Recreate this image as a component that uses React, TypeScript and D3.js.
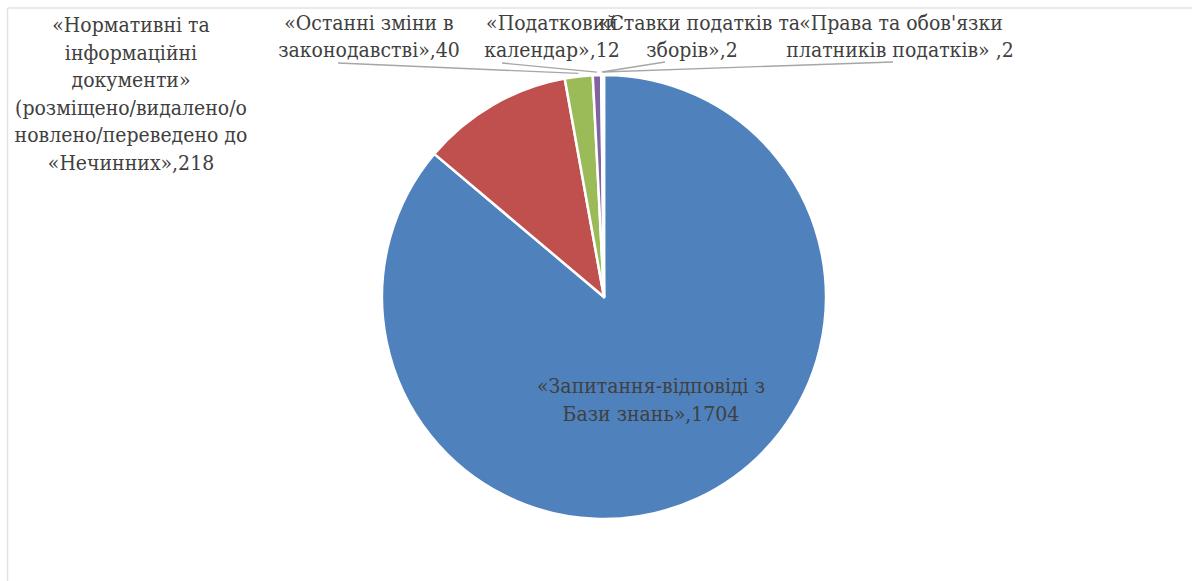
import React from "react";
import * as d3 from "d3";

const categories = [
  "«Запитання-відповіді з Бази знань»",
  "«Нормативні та інформаційні документи» (розміщено/видалено/оновлено/переведено до «Нечинних»",
  "«Останні зміни в законодавстві»",
  "«Податковий календар»",
  "«Ставки податків та зборів»",
  "«Права та обов'язки платників податків»",
];
const values = [1704, 218, 40, 12, 2, 2];
const labelLines = [
  ["«Запитання-відповіді з", "Бази знань»,1704"],
  ["«Нормативні та", "інформаційні", "документи»", "(розміщено/видалено/о", "новлено/переведено до", "«Нечинних»,218"],
  ["«Останні зміни в", "законодавстві»,40"],
  ["«Податковий", "календар»,12"],
  ["«Ставки податків та", "зборів»,2"],
  ["«Права та обов'язки", "платників податків» ,2"],
];
const colors = ["#4F81BD", "#C0504D", "#9BBB59", "#8064A2", "#4BACC6", "#F79646"];

// layout (positions only)
const W = 1192, H = 581;
const CX = 604, CY = 297, R = 222;
const SX = 0.9;
const labelLayout = [
  { xs: [651, 651], y0: 393, dy: 28.5, leader: null },
  { xs: [131, 131, 131, 131, 131, 131], y0: 32, dy: 27.6, leader: null },
  { xs: [369, 369], y0: 30, dy: 27.5, leader: [338, 63] },
  { xs: [552, 552], y0: 30, dy: 27.5, leader: [502, 63] },
  { xs: [699, 692], y0: 30, dy: 27.5, leader: [665, 62] },
  { xs: [901, 900], y0: 30, dy: 27.5, leader: [893, 62] },
];

export default function App() {
  const pie = d3.pie<number>().sort(null).startAngle(0).endAngle(2 * Math.PI);
  const arcs = pie(values);
  const arcGen = d3.arc<d3.PieArcDatum<number>>().innerRadius(0).outerRadius(R);
  return (
    <svg
      width={W}
      height={H}
      style={{ position: "absolute", left: 0, top: 0, background: "#fff" }}
    >
      <rect x={0} y={0} width={W} height={H} fill="#fff" />
      <line x1={7.5} y1={8} x2={W} y2={8} stroke="#e3e3e3" strokeWidth={1.5} />
      <line x1={7.5} y1={8} x2={7.5} y2={H} stroke="#e3e3e3" strokeWidth={1.5} />
      <g transform={`translate(${CX},${CY})`}>
        {arcs.map((a, i) => (
          <path key={i} d={arcGen(a) || ""} fill={colors[i]} stroke="#fff" strokeWidth={2.5} strokeLinejoin="round" />
        ))}
      </g>
      {arcs.map((a, i) => {
        const lay = labelLayout[i];
        if (!lay.leader) return null;
        const mid = (a.startAngle + a.endAngle) / 2;
        const ex = CX + (R + 3) * Math.sin(mid);
        const ey = CY - (R + 3) * Math.cos(mid);
        return (
          <line key={"l" + i} x1={lay.leader[0]} y1={lay.leader[1]} x2={ex} y2={ey} stroke="#a6a6a6" strokeWidth={1.3} />
        );
      })}
      {labelLines.map((lines, i) => {
        const lay = labelLayout[i];
        return (
          <text
            key={"t" + i}
            fontSize={21}
            fill="#404040"
            textAnchor="middle"
            transform={`scale(${SX},1)`}
            style={{ fontFamily: "'DejaVu Serif', serif" }}
          >
            {lines.map((ln, j) => (
              <tspan key={j} x={lay.xs[j] / SX} y={lay.y0 + j * lay.dy}>
                {ln}
              </tspan>
            ))}
          </text>
        );
      })}
    </svg>
  );
}
